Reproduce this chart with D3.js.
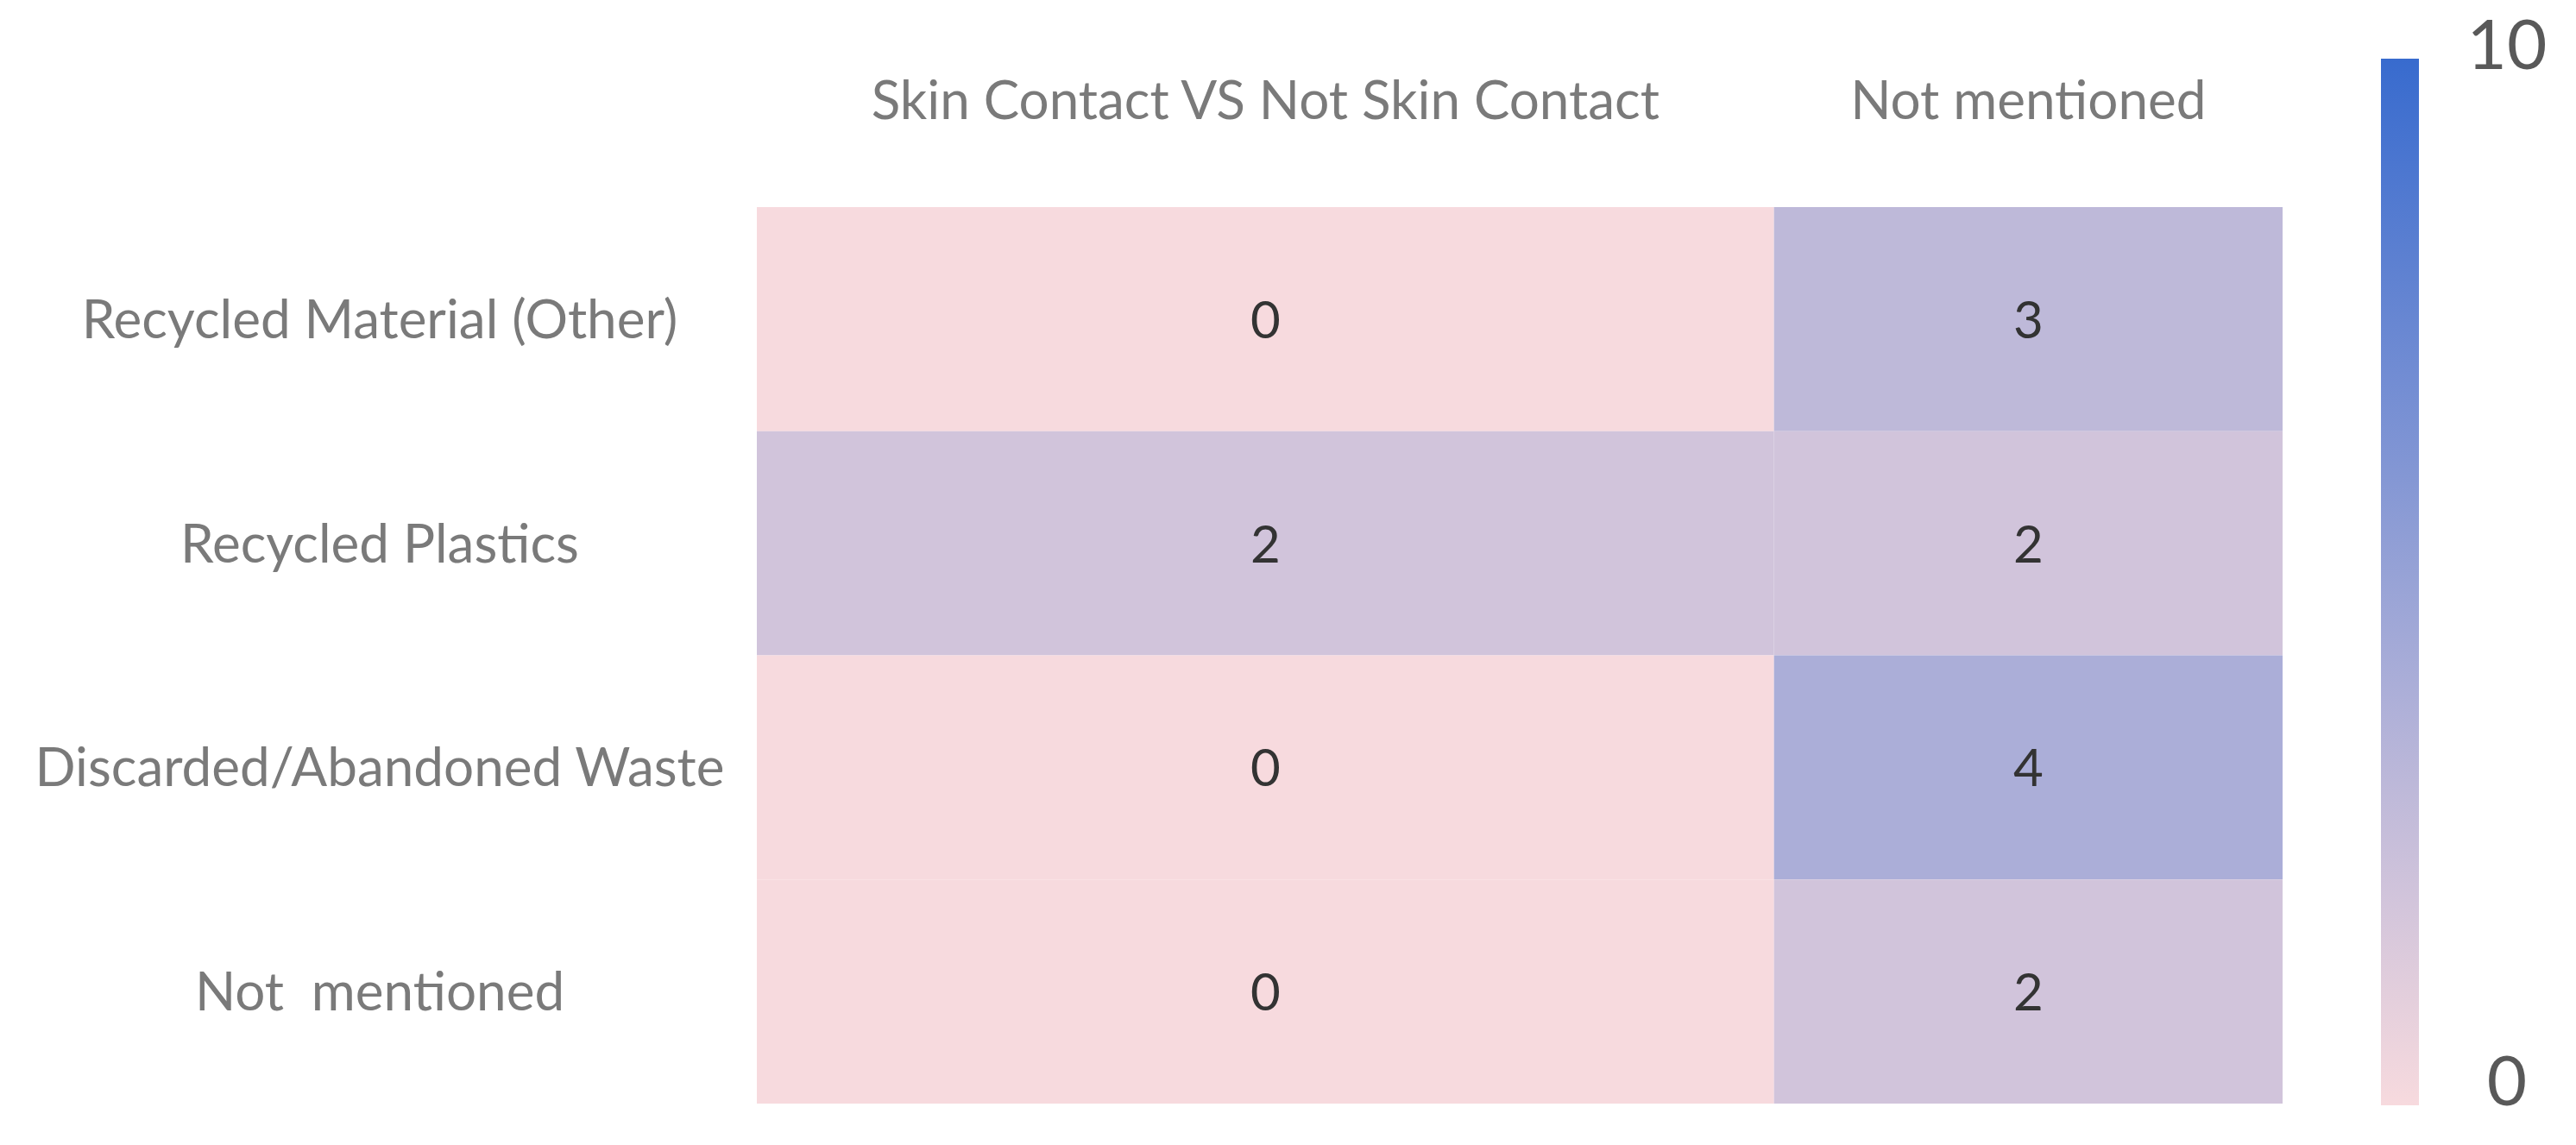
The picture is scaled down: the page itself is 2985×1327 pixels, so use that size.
<!DOCTYPE html>
<html>
<head>
<meta charset="utf-8">
<script src="https://cdn.jsdelivr.net/npm/d3@7"></script>
<style>
  html, body { margin: 0; padding: 0; background: #fff; }
  svg { display: block; }
  text { font-family: Lato, "Open Sans", sans-serif; }
</style>
</head>
<body>
<svg id="chart" width="2985" height="1327"></svg>
<script>
// data
var rows = ["Recycled Material (Other)", "Recycled Plastics", "Discarded/Abandoned Waste", "Not  mentioned"];
var cols = ["Skin Contact VS Not Skin Contact", "Not mentioned"];
var skinContact = [0, 2, 0, 0];
var notMentioned = [3, 2, 4, 2];
var scaleTicks = [0, 10];

var cells = [];
rows.forEach(function(r, i) {
  cells.push({row: r, col: 0, v: skinContact[i]});
  cells.push({row: r, col: 1, v: notMentioned[i]});
});

var svg = d3.select('#chart');

// first column is twice as wide as the second
var colWeights = [2, 1];
var colStart = [0].concat(Array.from(d3.cumsum(colWeights)));
var x = d3.scaleLinear().domain([0, d3.sum(colWeights)]).range([877, 2645]);
function colX(i) { return x(colStart[i]); }
function colW(i) { return x(colStart[i + 1]) - x(colStart[i]); }

var y = d3.scaleBand().domain(rows).range([240, 1279]);
var color = d3.scaleLinear().domain([0, 10]).range(['#f7dade', '#386bce']).interpolate(d3.interpolateRgb);

// cells
svg.append('g')
  .selectAll('rect')
  .data(cells)
  .enter()
  .append('rect')
  .attr('x', function(d) { return colX(d.col); })
  .attr('y', function(d) { return y(d.row); })
  .attr('width', function(d) { return colW(d.col); })
  .attr('height', y.bandwidth())
  .attr('fill', function(d) { return color(d.v); });

// cell values
svg.append('g')
  .selectAll('text')
  .data(cells)
  .enter()
  .append('text')
  .attr('x', function(d) { return colX(d.col) + colW(d.col) / 2; })
  .attr('y', function(d) { return y(d.row) + y.bandwidth() / 2 + 22; })
  .attr('text-anchor', 'middle')
  .style('font-size', '60px')
  .style('fill', '#333')
  .text(function(d) { return d.v; });

// column headers
svg.append('g')
  .selectAll('text')
  .data(cols)
  .enter()
  .append('text')
  .attr('x', function(d, i) { return colX(i) + colW(i) / 2; })
  .attr('y', 138)
  .attr('text-anchor', 'middle')
  .style('font-size', '62px')
  .style('fill', '#7a7a7a')
  .text(function(d) { return d; });

// row labels
svg.append('g')
  .selectAll('text')
  .data(rows)
  .enter()
  .append('text')
  .attr('x', 440)
  .attr('y', function(d) { return y(d) + y.bandwidth() / 2 + 22; })
  .attr('text-anchor', 'middle')
  .style('font-size', '62px')
  .style('fill', '#7a7a7a')
  .style('white-space', 'pre')
  .text(function(d) { return d; });

// colour bar
var cy = d3.scaleLinear().domain([0, 10]).range([1281, 68]);
var grad = svg.append('defs').append('linearGradient')
  .attr('id', 'bar')
  .attr('x1', 0).attr('y1', 1).attr('x2', 0).attr('y2', 0);
d3.range(0, 11).forEach(function(v) {
  grad.append('stop').attr('offset', v / 10).attr('stop-color', color(v));
});
svg.append('rect')
  .attr('x', 2759)
  .attr('y', cy(10))
  .attr('width', 44)
  .attr('height', cy(0) - cy(10))
  .attr('fill', 'url(#bar)');

svg.append('g')
  .selectAll('text')
  .data(scaleTicks)
  .enter()
  .append('text')
  .attr('x', 2905)
  .attr('y', function(d) { return d === 10 ? cy(d) + 12 : cy(d); })
  .attr('text-anchor', 'middle')
  .style('font-size', '80px')
  .style('fill', '#595959')
  .text(function(d) { return d; });
</script>
</body>
</html>
